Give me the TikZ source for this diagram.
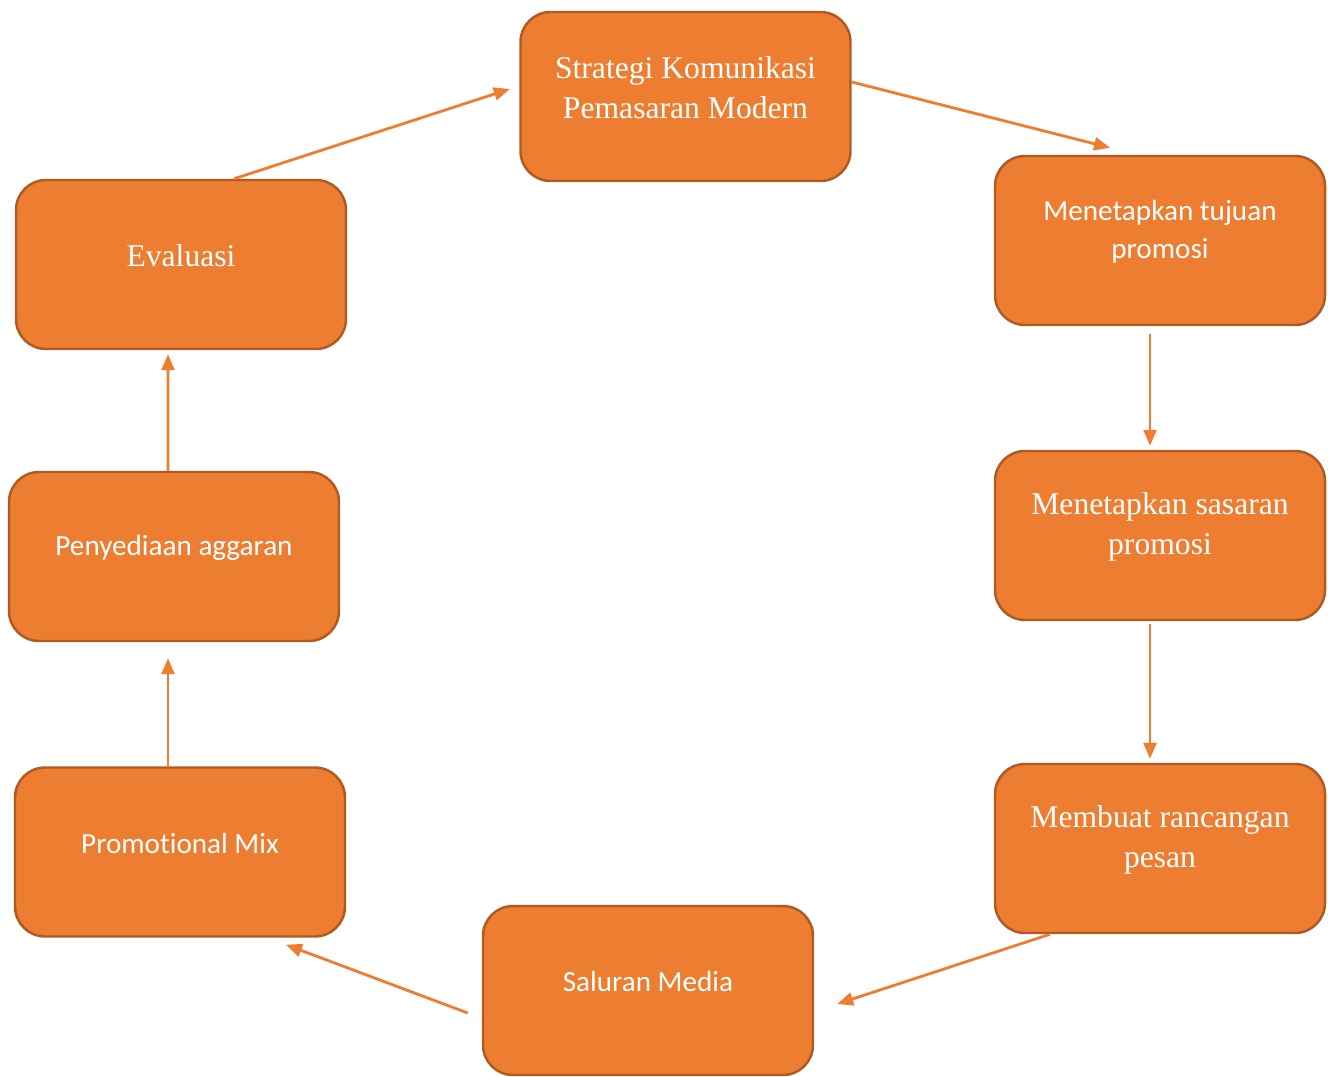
\documentclass[tikz,border=0pt]{standalone}
\usepackage{fontspec}
\setmainfont{Liberation Serif}
\newfontfamily\calibri[Ligatures=NoCommon]{Carlito}
\usetikzlibrary{arrows.meta}

\definecolor{boxfill}{HTML}{ED7D31}
\definecolor{boxline}{HTML}{AE5A21}

\tikzset{
  box/.style={draw=boxline, fill=boxfill, line width=.7pt, rounded corners=.3cm,
    minimum width=3.3cm, minimum height=1.69cm},
  serif/.style={text=white, align=center, font=\fontsize{9}{11.4}\selectfont},
  sans/.style={text=white, align=center, font=\calibri\fontsize{8.3}{10.8}\selectfont},
  arrow/.style={draw=boxfill, line width=.8pt, -{Triangle[length=.16cm, width=.13cm]}}
}

\begin{document}
\begin{tikzpicture}
        \useasboundingbox (0, 0) rectangle (13.28, -10.77);

        % the eight boxes
        \node[box] (strat) at (6.855, -0.965) {};
        \node[box] (tujuan) at (11.60, -2.405) {};
        \node[box] (sasaran) at (11.60, -5.355) {};
        \node[box] (rancang) at (11.60, -8.485) {};
        \node[box] (saluran) at (6.48, -9.905) {};
        \node[box] (promo) at (1.80, -8.52) {};
        \node[box] (anggaran) at (1.74, -5.565) {};
        \node[box] (eval) at (1.81, -2.645) {};

        % texts, a little above the middle
        \node[serif] (strat-t) at ([yshift=.09cm]strat.center) {Strategi Komunikasi\\Pemasaran Modern};
        \node[sans] (tujuan-t) at ([yshift=.09cm]tujuan.center) {Menetapkan tujuan\\promosi};
        \node[serif] (sasaran-t) at ([yshift=.09cm]sasaran.center) {Menetapkan sasaran\\promosi};
        \node[serif] (rancang-t) at ([yshift=.09cm]rancang.center) {Membuat rancangan\\pesan};
        \node[sans] (saluran-t) at ([yshift=.09cm]saluran.center) {Saluran Media};
        \node[sans] (promo-t) at ([yshift=.09cm]promo.center) {Promotional Mix};
        \node[sans] (anggaran-t) at ([yshift=.09cm]anggaran.center) {Penyediaan aggaran};
        \node[serif] (eval-t) at ([yshift=.09cm]eval.center) {Evaluasi};

        % the cycle
        \draw[arrow] ([xshift=.53cm]eval.north) -- ([xshift=-.095cm, yshift=.075cm]strat.west);
        \draw[arrow] ([yshift=.145cm]strat.east) -- ([xshift=-.5cm, yshift=.07cm]tujuan.north);
        \draw[arrow] ([xshift=-.1cm, yshift=-.08cm]tujuan.south) -- ([xshift=-.1cm, yshift=.04cm]sasaran.north);
        \draw[arrow] ([xshift=-.1cm, yshift=-.03cm]sasaran.south) -- ([xshift=-.1cm, yshift=.04cm]rancang.north);
        \draw[arrow] ([xshift=-1.1cm]rancang.south) -- ([xshift=.23cm, yshift=-.135cm]saluran.east);
        \draw[arrow] ([xshift=-.14cm, yshift=-.225cm]saluran.west) -- ([xshift=1.06cm, yshift=-.07cm]promo.south);
        \draw[arrow] ([xshift=-.12cm]promo.north) -- ([xshift=-.06cm, yshift=-.16cm]anggaran.south);
        \draw[arrow] ([xshift=-.06cm]anggaran.north) -- ([xshift=-.13cm, yshift=-.04cm]eval.south);

      \end{tikzpicture}
\end{document}
